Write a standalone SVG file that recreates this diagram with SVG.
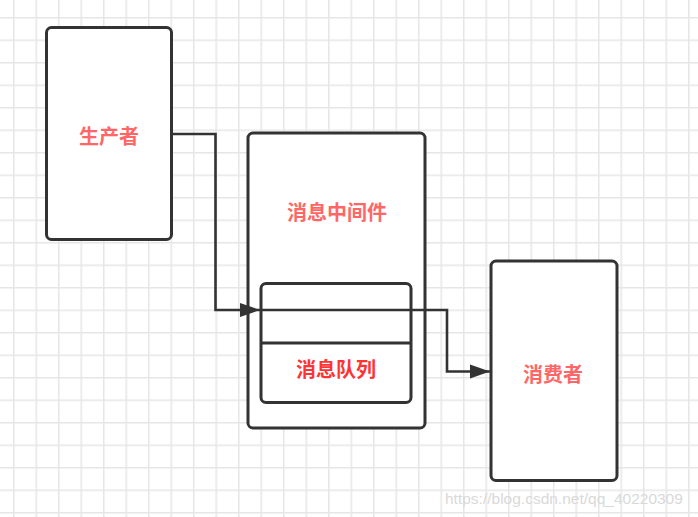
<svg xmlns="http://www.w3.org/2000/svg" width="698" height="517" viewBox="0 0 698 517">
  <defs>
    <pattern id="grid" x="13" y="17" width="22.5" height="22.5" patternUnits="userSpaceOnUse">
      <path d="M0.75 0V22.5M0 0.75H22.5" fill="none" stroke="#e6e6e6" stroke-width="1.5"/>
    </pattern>
    <marker id="arrow" markerUnits="userSpaceOnUse" markerWidth="22" markerHeight="16" refX="20" refY="8" orient="auto">
      <path d="M0 1 L20 8 L0 15 Z" fill="#333333"/>
    </marker>
  </defs>
  <style>
    .box { fill: #ffffff; stroke: #333333; stroke-width: 3; }
    .inner { fill: none; stroke: #333333; stroke-width: 3; }
    .conn { fill: none; stroke: #333333; stroke-width: 2.6; }
    .lbl { font-family: "Noto Sans CJK SC", "Noto Sans", sans-serif; font-weight: bold; font-size: 20px; text-anchor: middle; dominant-baseline: central; fill: #ff6666; }
    .wm { font-family: "Liberation Sans", Arial, sans-serif; font-size: 15.5px; fill: #d9d9d9; }
  </style>
  <rect width="698" height="517" fill="#ffffff"/>
  <rect width="698" height="517" fill="url(#grid)"/>

  <g id="producer">
    <rect class="box" x="46.5" y="27.5" width="125" height="212" rx="5"/>
    <text class="lbl" x="109" y="135">生产者</text>
  </g>

  <g id="middleware">
    <rect class="box" x="248" y="133" width="177" height="295" rx="5"/>
    <text class="lbl" x="337" y="211">消息中间件</text>
  </g>

  <g id="queue">
    <rect class="box" x="261" y="283.5" width="150" height="119" rx="5"/>
    <line class="inner" x1="261" y1="343" x2="411" y2="343"/>
    <text class="lbl" x="336" y="368" style="fill:#ff3333">消息队列</text>
  </g>

  <g id="consumer">
    <rect class="box" x="491" y="261" width="126" height="219.5" rx="5"/>
    <text class="lbl" x="553" y="373">消费者</text>
  </g>

  <g id="connectors">
    <path class="conn" d="M172 134 H215.5 V310 H260" marker-end="url(#arrow)"/>
    <path class="conn" d="M261 310 H447 V371.5 H490" marker-end="url(#arrow)"/>
  </g>

  <text class="wm" x="445" y="504">https://blog.csdn.net/qq_40220309</text>
</svg>
